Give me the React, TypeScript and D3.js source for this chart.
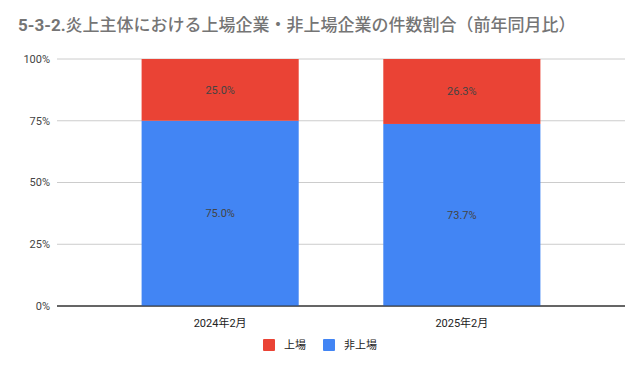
import { useRef, useEffect } from "react";
import * as d3 from "d3";

const categories = ["2024年2月", "2025年2月"];
const listed = [25.0, 26.3];
const unlisted = [75.0, 73.7];
const yTicks = [0, 25, 50, 75, 100];
const seriesNames = ["上場", "非上場"];
const seriesColors = ["#ea4335", "#4285f4"];

const W = 643;
const H = 371;
const FONT = "Roboto, 'Noto Sans CJK JP', sans-serif";

const App = () => {
  const svgRef = useRef<SVGSVGElement | null>(null);

  useEffect(() => {
    if (!svgRef.current) return;
    const svg = d3.select(svgRef.current);
    svg.selectAll("*").remove();

    const margin = { top: 59, right: 18, bottom: 65, left: 57 };
    const innerW = W - margin.left - margin.right;
    const innerH = H - margin.top - margin.bottom;

    svg.append("rect").attr("width", W).attr("height", H).attr("fill", "#fff");

    const title = svg
      .append("text")
      .attr("x", 18)
      .attr("y", 31)
      .attr("font-family", FONT)
      .attr("font-size", 17)
      .attr("fill", "#757575");
    title.append("tspan").attr("font-weight", "bold").text("5-3-2.");
    title
      .append("tspan")
      .attr("font-weight", 500)
      .text("炎上主体における上場企業・非上場企業の件数割合（前年同月比）");

    const g = svg
      .append("g")
      .attr("transform", `translate(${margin.left},${margin.top})`);

    const x = d3
      .scaleBand()
      .domain(categories)
      .range([0, innerW])
      .paddingInner(0.35)
      .paddingOuter(0.35);
    const y = d3.scaleLinear().domain([0, 100]).range([innerH, 0]);

    // grid + y labels
    yTicks.forEach((t) => {
      g.append("line")
        .attr("x1", 0)
        .attr("x2", innerW)
        .attr("y1", y(t))
        .attr("y2", y(t))
        .attr("stroke", t === 0 ? "#333" : "#ccc")
        .attr("stroke-width", 1);
      g.append("text")
        .attr("x", -7)
        .attr("y", y(t))
        .attr("dy", "0.35em")
        .attr("text-anchor", "end")
        .attr("font-family", FONT)
        .attr("font-size", 11)
        .attr("fill", "#444")
        .text(`${t}%`);
    });

    const rows = categories.map((c, i) => ({ c, listed: listed[i], unlisted: unlisted[i] }));
    const stack = d3.stack<(typeof rows)[0]>().keys(["unlisted", "listed"]);
    const layers = stack(rows as any);
    const colorOf: Record<string, string> = {
      unlisted: seriesColors[1],
      listed: seriesColors[0],
    };

    layers.forEach((layer) => {
      layer.forEach((d) => {
        const cx = x(d.data.c)!;
        g.append("rect")
          .attr("x", cx)
          .attr("y", y(d[1]))
          .attr("width", x.bandwidth())
          .attr("height", y(d[0]) - y(d[1]))
          .attr("fill", colorOf[layer.key]);
        g.append("text")
          .attr("x", cx + x.bandwidth() / 2)
          .attr("y", (y(d[0]) + y(d[1])) / 2)
          .attr("dy", "0.35em")
          .attr("text-anchor", "middle")
          .attr("font-family", FONT)
          .attr("font-size", 11)
          .attr("fill", "#444")
          .text(`${(d[1] - d[0]).toFixed(1)}%`);
      });
    });

    // baseline on top of bars
    g.append("line")
      .attr("x1", 0)
      .attr("x2", innerW)
      .attr("y1", innerH)
      .attr("y2", innerH)
      .attr("stroke", "#333");

    categories.forEach((c) => {
      g.append("text")
        .attr("x", x(c)! + x.bandwidth() / 2)
        .attr("y", innerH + 21)
        .attr("text-anchor", "middle")
        .attr("font-family", FONT)
        .attr("font-size", 11)
        .attr("fill", "#222")
        .text(c);
    });

    // legend
    const legendX = [263, 323];
    seriesNames.forEach((name, i) => {
      svg
        .append("rect")
        .attr("x", legendX[i])
        .attr("y", 339)
        .attr("width", 12)
        .attr("height", 12)
        .attr("rx", 1)
        .attr("fill", seriesColors[i]);
      svg
        .append("text")
        .attr("x", legendX[i] + 21)
        .attr("y", 345)
        .attr("dy", "0.35em")
        .attr("font-family", FONT)
        .attr("font-size", 11)
        .attr("fill", "#222")
        .text(name);
    });
  }, []);

  return (
    <div style={{ position: "absolute", left: 0, top: 0 }}>
      <svg ref={svgRef} width={W} height={H} style={{ display: "block" }}></svg>
    </div>
  );
};

export default App;
